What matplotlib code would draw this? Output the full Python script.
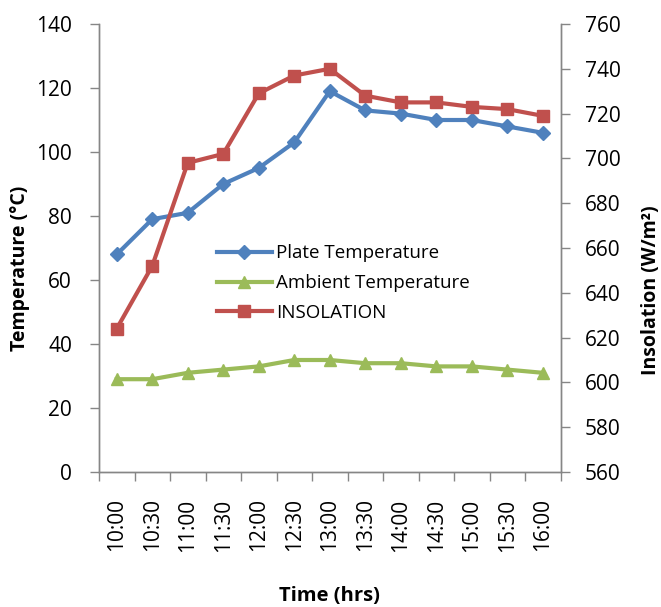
import matplotlib
matplotlib.use("Agg")
import matplotlib.pyplot as plt

plt.rcParams['font.family'] = ['Open Sans', 'DejaVu Sans']

times = ["10:00", "10:30", "11:00", "11:30", "12:00", "12:30", "13:00",
         "13:30", "14:00", "14:30", "15:00", "15:30", "16:00"]
plate_temp = [68, 79, 81, 90, 95, 103, 119, 113, 112, 110, 110, 108, 106]
ambient_temp = [29, 29, 31, 32, 33, 35, 35, 34, 34, 33, 33, 32, 31]
insolation = [624, 652, 698, 702, 729, 737, 740, 728, 725, 725, 723, 722, 719]

left_ticks = [0, 20, 40, 60, 80, 100, 120, 140]
right_ticks = [560, 580, 600, 620, 640, 660, 680, 700, 720, 740, 760]

BLUE = "#4F81BD"
GREEN = "#9BBB59"
RED = "#C0504D"
AXC = "#868686"

fig = plt.figure(figsize=(6.61, 6.07), dpi=100)
ax = fig.add_axes([99/661, 1-472/607, (560.5-99)/661, (472-24)/607])
ax2 = ax.twinx()

x = list(range(len(times)))
l1, = ax.plot(x, plate_temp, color=BLUE, lw=3, marker='D', ms=7, label="Plate Temperature")
l2, = ax.plot(x, ambient_temp, color=GREEN, lw=3, marker='^', ms=9, label="Ambient Temperature")
l3, = ax2.plot(x, insolation, color=RED, lw=3, marker='s', ms=8.5, label="INSOLATION")

ax.set_xlim(-0.5, len(times) - 0.5)
ax.set_ylim(0, 140)
ax2.set_ylim(560, 760)
ax.set_yticks(left_ticks)
ax2.set_yticks(right_ticks)

# category boundaries as major ticks, labels on minor ticks
ax.set_xticks([i - 0.5 for i in range(len(times) + 1)])
ax.set_xticklabels([])
ax.set_xticks(x, minor=True)
ax.set_xticklabels(times, minor=True, rotation=90, fontsize=15)
ax.tick_params(axis='x', which='major', length=6.5, width=1, color=AXC, direction='out')
ax.tick_params(axis='x', which='minor', length=0, pad=19)

ax.tick_params(axis='y', length=6.5, width=1, color=AXC, labelsize=15, pad=13)
ax2.tick_params(axis='y', length=6.5, width=1, color=AXC, labelsize=15, pad=11)

for a in (ax, ax2):
    a.spines['top'].set_visible(False)
    for s in ('left', 'right', 'bottom'):
        a.spines[s].set_color(AXC)
        a.spines[s].set_linewidth(1)

ax.set_ylabel("Temperature (°C)", fontsize=14, fontweight='bold', va='center')
ax.yaxis.set_label_coords((20 - 99) / 461.5, (472 - 268) / 448)
ax2.set_ylabel("Insolation (W/m²)", fontsize=14, fontweight='bold', va='center')
ax2.yaxis.set_label_coords((651 - 99) / 461.5, (472 - 290) / 448)
ax.set_xlabel("Time (hrs)", fontsize=14.5, fontweight='bold', va='center')
ax.xaxis.set_label_coords(0.5, (472 - 596) / 448)

ax2.legend(handles=[l1, l2, l3], loc='upper left', bbox_to_anchor=(0.24, 0.525),
           frameon=False, fontsize=13.5, handlelength=2.9, handletextpad=0.25,
           labelspacing=0.63, borderaxespad=0)

fig.savefig("out.png", dpi=100)
